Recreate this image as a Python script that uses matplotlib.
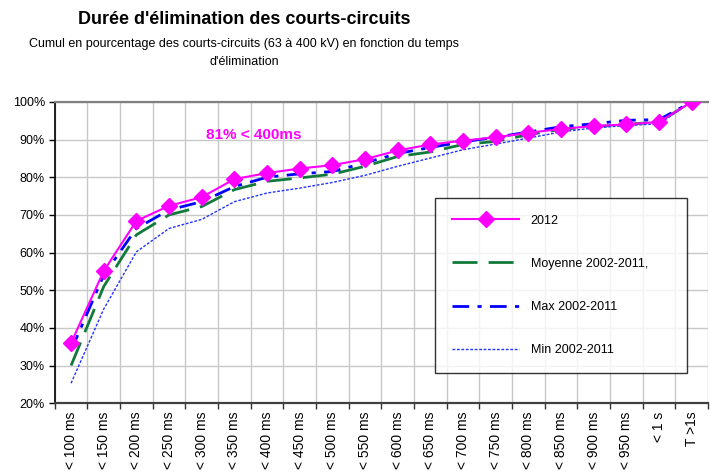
import numpy as np
import matplotlib
matplotlib.use("Agg")
import matplotlib.pyplot as plt
from matplotlib.ticker import FixedLocator, PercentFormatter

plt.rcParams['font.family'] = ['Liberation Sans', 'DejaVu Sans']

# categories (cumulative elimination time)
categories = ['< 100 ms', '< 150 ms', '< 200 ms', '< 250 ms', '< 300 ms',
              '< 350 ms', '< 400 ms', '< 450 ms', '< 500 ms', '< 550 ms',
              '< 600 ms', '< 650 ms', '< 700 ms', '< 750 ms', '< 800 ms',
              '< 850 ms', '< 900 ms', '< 950 ms', '< 1 s', 'T >1s']

# cumulative percentages
v2012 = [36.0, 55.1, 68.4, 72.4, 74.7, 79.5, 81.1, 82.3, 83.2, 84.8,
         87.1, 88.7, 89.7, 90.6, 91.8, 92.8, 93.6, 94.0, 94.7, 100]
moyenne = [30.0, 51.0, 64.7, 70.0, 72.2, 76.7, 78.9, 79.8, 80.8, 82.9,
           85.5, 86.7, 88.7, 89.5, 91.3, 92.7, 93.4, 94.0, 94.7, 100]
vmax = [34.0, 54.0, 66.4, 71.3, 73.5, 77.5, 80.0, 80.9, 81.5, 83.8,
        86.3, 87.9, 89.4, 90.6, 92.0, 93.4, 94.2, 95.1, 95.3, 100]
vmin = [25.3, 45.0, 60.2, 66.4, 68.8, 73.5, 75.8, 77.1, 78.6, 80.5,
        82.9, 85.1, 87.3, 88.8, 90.4, 92.0, 93.1, 93.7, 94.2, 100]

x = np.arange(len(categories))

fig = plt.figure(figsize=(7.11, 4.76), dpi=100)
ax = fig.add_axes([0.077, 0.153, 0.919, 0.633])

ax.plot(x, moyenne, color='#117A3A', lw=2, dashes=(9, 4), label='Moyenne 2002-2011,')
ax.plot(x, vmax, color='#0000FF', lw=2, dashes=(6, 3, 1.5, 3), label='Max 2002-2011')
ax.plot(x, vmin, color='#2233FF', lw=1, dashes=(2, 1.2), label='Min 2002-2011')
ax.plot(x, v2012, color='#FF00FF', lw=1.5, marker='D', ms=8, mec='#FF00FF',
        label='2012', zorder=5)

ax.set_xlim(-0.5, len(categories) - 0.5)
ax.set_ylim(20, 100)
ax.set_yticks(np.arange(20, 101, 10))
ax.yaxis.set_major_formatter(PercentFormatter(decimals=0))
ax.set_xticks(x)
ax.set_xticklabels(categories, rotation=90, fontsize=10)
ax.xaxis.set_minor_locator(FixedLocator(np.arange(-0.5, len(categories), 1)))
ax.tick_params(axis='x', which='major', length=0, pad=6)
ax.tick_params(axis='x', which='minor', length=4, width=1, color='#333333')
ax.tick_params(axis='y', length=4, width=1, labelsize=9, pad=3)

ax.grid(True, axis='y', which='major', color='#c8c8c8', lw=1)
ax.grid(True, axis='x', which='minor', color='#c8c8c8', lw=1)
ax.set_axisbelow(True)

ax.spines['right'].set_visible(False)
ax.spines['top'].set_color('#808080')
ax.spines['top'].set_linewidth(1.6)
ax.spines['bottom'].set_color('#404040')
ax.spines['bottom'].set_linewidth(1.6)
ax.spines['left'].set_color('#000000')
ax.spines['left'].set_linewidth(1.2)

ax.text(5.6, 91.2, '81% < 400ms', color='#FF00FF', fontsize=11,
        fontweight='bold', ha='center', va='center')

handles, labels = ax.get_legend_handles_labels()
order = [3, 0, 1, 2]
leg = ax.legend([handles[i] for i in order], [labels[i] for i in order],
                loc='upper left', bbox_to_anchor=(0.582, 0.096, 0.386, 0.586),
                mode='expand', borderaxespad=0, fontsize=9, frameon=True,
                fancybox=False, edgecolor='#000000', handlelength=5.4,
                handletextpad=0.9, labelspacing=2.5, borderpad=1.35)
leg.get_frame().set_linewidth(1)

fig.text(0.343, 0.958, "Durée d'élimination des courts-circuits", fontsize=13,
         fontweight='bold', ha='center', va='center')
fig.text(0.343, 0.907, "Cumul en pourcentage des courts-circuits (63 à 400 kV) en fonction du temps",
         fontsize=9, ha='center', va='center')
fig.text(0.343, 0.869, "d'élimination", fontsize=9, ha='center', va='center')

fig.savefig('out.png', dpi=100)
